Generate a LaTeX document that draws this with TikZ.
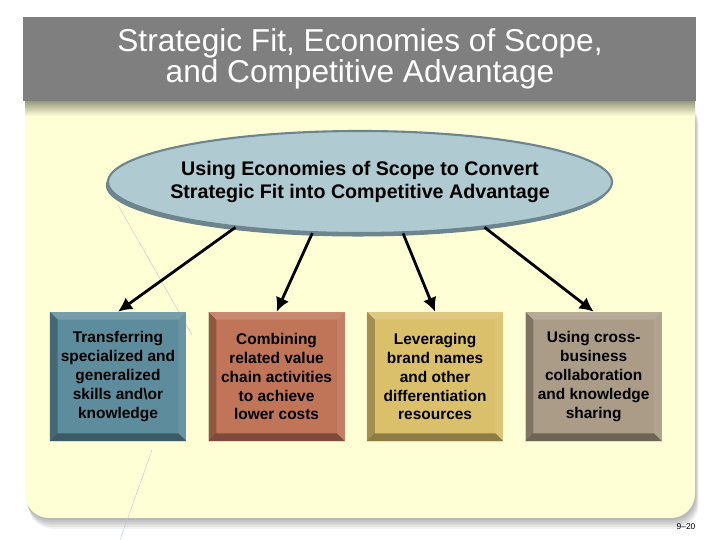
\documentclass[tikz,border=0pt]{standalone}
\usepackage{fontspec}
\setmainfont{Liberation Sans}
\usetikzlibrary{arrows.meta,positioning,shapes.geometric,shadows}
\definecolor{panel}{RGB}{255,255,214}
\definecolor{bar}{RGB}{127,127,127}
\definecolor{ovalfill}{RGB}{176,202,210}
\definecolor{ovalrim}{RGB}{108,133,143}
\definecolor{boxA}{RGB}{93,140,156}
\definecolor{boxB}{RGB}{192,116,88}
\definecolor{boxC}{RGB}{218,192,106}
\definecolor{boxD}{RGB}{170,156,134}
\definecolor{stray}{RGB}{190,205,215}
\tikzset{
  oval/.style={ellipse, fill=ovalfill, draw=ovalrim, line width=1.5pt,
    minimum width=12.6cm, minimum height=2.55cm, inner sep=0pt,
    general shadow={fill=ovalrim, shadow xshift=-1.5pt, shadow yshift=-2.5pt}},
  method/.style={fill=#1, minimum width=3.4cm, minimum height=3.225cm,
    inner sep=0pt, align=center, font=\bfseries\fontsize{11}{13.5}\selectfont},
  arr/.style={line width=2pt, -{Latex[length=10pt,width=10pt]}},
}
\begin{document}
\begin{tikzpicture}
  \useasboundingbox (0,0) rectangle (18,13.5);
  \fill[white] (0,0) rectangle (18,13.5);
  \foreach \i in {1,...,6}
    \fill[black,opacity=.05,rounded corners=.6cm]
      (0.625+0.015*\i,0.55-0.045*\i) rectangle (17.375+0.015*\i,11);
  \fill[panel,rounded corners=.6cm] (0.625,0.55) rectangle (17.375,12);
  \shade[top color=black!40!panel, bottom color=panel] (0.625,10.6) rectangle (17.375,10.975);
  \fill[bar] (0.575,10.975) rectangle (17.4,13.075);
  \node[white, align=center, font=\fontsize{22.5}{22}\selectfont] (title) at (9,12.02)
    {Strategic Fit, Economies of Scope,\\and Competitive Advantage};

  \draw[stray, line width=.3pt] (2.95,8.375) -- (4.8,5.125);
  \draw[stray, line width=.3pt] (3.8,2.25) -- (3.0,0);

  \node[oval] (hub) at (9,8.95) {};
  \node[align=center, font=\bfseries\fontsize{14}{16.3}\selectfont] (hubtext) at (hub)
    {Using Economies of Scope to Convert\\Strategic Fit into Competitive Advantage};

  \node[method=boxA] (b1) at (2.95,4.0875)
    {Transferring\\specialized and\\generalized\\skills and\textbackslash or\\knowledge};
  \node[method=boxB, right=0.55cm of b1] (b2)
    {Combining\\related value\\chain activities\\to achieve\\lower costs};
  \node[method=boxC, right=0.55cm of b2] (b3)
    {Leveraging\\brand names\\and other\\differentiation\\resources};
  \node[method=boxD, right=0.55cm of b3] (b4)
    {Using cross-\\business\\collaboration\\and knowledge\\sharing};

  \foreach \n in {b1,b2,b3,b4}{
    \path (\n.north west) coordinate (nw) (\n.north east) coordinate (ne)
          (\n.south west) coordinate (sw) (\n.south east) coordinate (se);
    \fill[white,opacity=.15] (nw) -- (ne) -- ([shift={(-.2,-.2)}]ne) -- ([shift={(.2,-.2)}]nw) -- cycle;
    \fill[white,opacity=.08] (ne) -- (se) -- ([shift={(-.2,.2)}]se) -- ([shift={(-.2,-.2)}]ne) -- cycle;
    \fill[black,opacity=.25] (nw) -- (sw) -- ([shift={(.2,.2)}]sw) -- ([shift={(.2,-.2)}]nw) -- cycle;
    \fill[black,opacity=.35] (sw) -- (se) -- ([shift={(-.2,.2)}]se) -- ([shift={(.2,.2)}]sw) -- cycle;
  }

  \begin{scope}[arr]
    \draw (hub.200) to (b1.north);
    \draw (hub.227) to (b2.north);
    \draw (hub.310) to (b3.north);
    \draw (hub.340) to (b4.north);
  \end{scope}

  \node[font=\fontsize{6}{7}\selectfont] (page) at (17.15,0.33) {9--20};
\end{tikzpicture}
\end{document}
